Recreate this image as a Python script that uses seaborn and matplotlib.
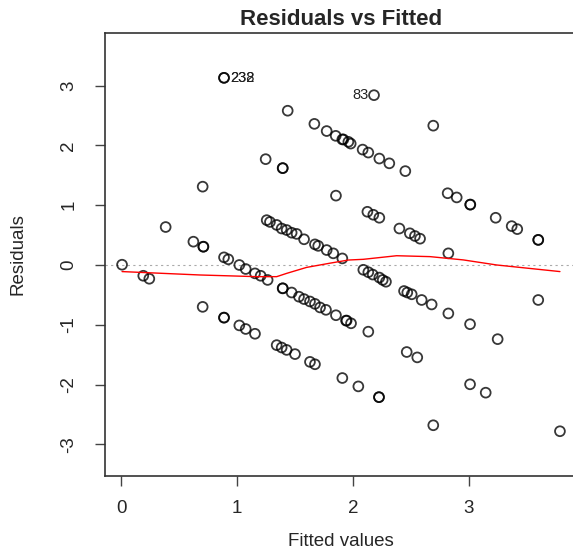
import matplotlib
matplotlib.use("Agg")
import matplotlib.pyplot as plt
import seaborn as sns
import pandas as pd

# fitted values / residuals
fitted = [
    0.888, 0.888, 1.437, 1.667, 1.773, 1.851, 1.908, 1.96, 1.247, 1.394, 1.394, 0.704, 1.853,
    0.385, 0.624, 0.71, 0.71, 0.009,
    1.256, 1.284, 1.342, 1.385, 1.428, 1.471, 1.514, 1.578, 1.672, 1.70, 1.773, 1.83, 1.908,
    0.888, 0.925, 1.02, 1.075, 1.155, 1.204, 1.264, 0.192, 0.244,
    1.394, 1.394, 1.471, 1.534, 1.578, 1.629, 1.672, 1.716, 1.767, 1.853, 1.945,
    0.704, 0.888, 0.888, 1.02, 1.075, 1.155, 1.342, 1.385, 1.428, 1.50, 1.629, 1.672, 1.908,
    2.181, 2.692, 1.917, 1.98, 2.083, 2.132, 2.227, 2.313, 2.451,
    2.816, 2.894, 3.011, 3.011, 3.23, 3.368, 3.416, 3.597, 3.597,
    2.124, 2.175, 2.227, 2.40, 2.49, 2.534, 2.578, 2.822,
    2.089, 2.132, 2.17, 2.227, 2.256, 2.284,
    2.44, 2.468, 2.506, 2.592, 2.678, 2.822, 3.009, 3.247, 3.597,
    1.94, 1.983, 2.132, 2.463, 2.554, 2.046, 2.224, 2.224, 3.009, 3.144, 2.692, 3.784,
]
residuals = [
    3.13, 3.13, 2.58, 2.36, 2.24, 2.16, 2.10, 2.06, 1.77, 1.62, 1.62, 1.31, 1.16,
    0.635, 0.39, 0.306, 0.306, 0.005,
    0.75, 0.72, 0.67, 0.61, 0.585, 0.54, 0.52, 0.43, 0.345, 0.32, 0.25, 0.195, 0.11,
    0.128, 0.095, 0.0, -0.067, -0.14, -0.18, -0.25, -0.18, -0.23,
    -0.39, -0.39, -0.46, -0.53, -0.57, -0.61, -0.65, -0.71, -0.75, -0.84, -0.93,
    -0.70, -0.88, -0.88, -1.01, -1.07, -1.15, -1.34, -1.38, -1.42, -1.49, -1.62, -1.66, -1.89,
    2.84, 2.33, 2.10, 2.03, 1.93, 1.88, 1.78, 1.70, 1.57,
    1.20, 1.13, 1.01, 1.01, 0.79, 0.65, 0.60, 0.42, 0.42,
    0.89, 0.84, 0.79, 0.61, 0.53, 0.485, 0.44, 0.195,
    -0.08, -0.12, -0.16, -0.21, -0.25, -0.28,
    -0.435, -0.46, -0.49, -0.585, -0.66, -0.81, -0.99, -1.24, -0.585,
    -0.93, -0.975, -1.115, -1.455, -1.545, -2.03, -2.21, -2.21, -1.995, -2.135, -2.68, -2.78,
]

# smoother (red line)
smooth_x = [0.009, 0.681, 1.17, 1.342, 1.428, 1.60, 1.80, 1.96, 2.089, 2.376, 2.664, 2.951, 3.24, 3.784]
smooth_y = [-0.11, -0.167, -0.195, -0.195, -0.14, -0.04, 0.03, 0.083, 0.095, 0.155, 0.14, 0.085, 0.0, -0.11]

# labelled points
label_text = ["238", "232", "83"]
label_x = [0.888, 0.888, 2.181]
label_y = [3.13, 3.13, 2.84]
label_side = ["right", "right", "left"]

x_ticks = [0, 1, 2, 3]
y_ticks = [-3, -2, -1, 0, 1, 2, 3]

df = pd.DataFrame({"fitted": fitted, "residuals": residuals})
sm = pd.DataFrame({"x": smooth_x, "y": smooth_y})

sns.set_style("ticks")
plt.rcParams["font.family"] = ["Liberation Sans", "DejaVu Sans"]

W, H = 573, 551
fig = plt.figure(figsize=(W / 100, H / 100), dpi=100)
left, right, top, bottom = 105, 577, 33, 476
ax = fig.add_axes([left / W, 1 - bottom / H, (right - left) / W, (bottom - top) / H])

ax.axhline(0, color="#aaaaaa", lw=0.8, ls=(0, (2, 3)), zorder=1)
sns.scatterplot(data=df, x="fitted", y="residuals", ax=ax, marker="o", s=50,
                facecolor="none", edgecolor=(0, 0, 0, 0.78), linewidth=1.3, zorder=3)
sns.lineplot(data=sm, x="x", y="y", ax=ax, color="red", lw=1.0, estimator=None,
             sort=False, zorder=4)

for t, xx, yy, side in zip(label_text, label_x, label_y, label_side):
    dx = 0.05 if side == "right" else -0.05
    ax.text(xx + dx, yy, t, ha="left" if side == "right" else "right", va="center",
            fontsize=10.5, color="#222222", zorder=5)

ax.set_xlim(-0.138, (right - 121) / 116)
ax.set_ylim((265 - bottom) / 59.8, (265 - top) / 59.8)
ax.set_xticks(x_ticks)
ax.set_yticks(y_ticks)
ax.set_xticklabels([str(v) for v in x_ticks], fontsize=13.5)
ax.set_yticklabels([str(v) for v in y_ticks], fontsize=13.5, rotation=90, va="center")
ax.tick_params(direction="out", length=7, width=1, color="#444444")
ax.tick_params(axis="x", pad=10)
ax.tick_params(axis="y", pad=13)
for s in ax.spines.values():
    s.set_color("#333333")
    s.set_linewidth(1.2)

ax.set_xlabel("Fitted values", fontsize=13.5)
ax.set_ylabel("Residuals", fontsize=13.5)
ax.xaxis.set_label_coords(0.5, (bottom - 541) / (bottom - top))
ax.xaxis.label.set_va("center")
ax.yaxis.set_label_coords((18 - left) / (right - left), 0.5)
ax.yaxis.label.set_va("center")
ax.set_title("Residuals vs Fitted", fontsize=16, fontweight="bold", pad=6)

fig.savefig("out.png", dpi=100)
